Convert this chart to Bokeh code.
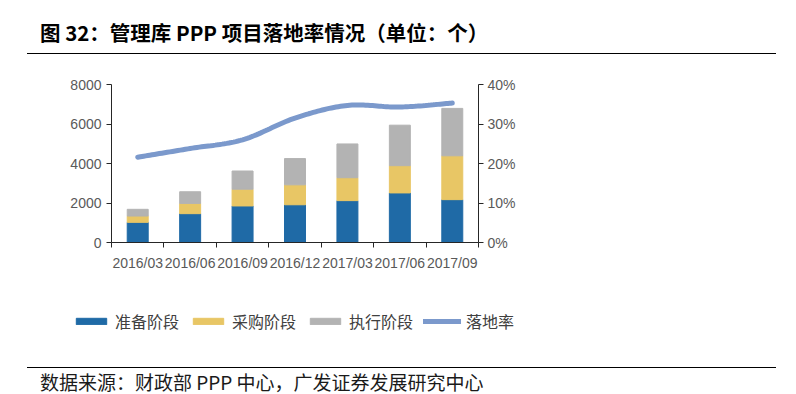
import numpy as np
from bokeh.plotting import figure
from bokeh.layouts import column
from bokeh.models import (Range1d, LinearAxis, FixedTicker, NumeralTickFormatter, Div,
                          Legend, LegendItem, ColumnDataSource)
from bokeh.embed import file_html
from bokeh.resources import INLINE

# ---- data ----
periods = ["2016/03", "2016/06", "2016/09", "2016/12", "2017/03", "2017/06", "2017/09"]
prep = [1020, 1460, 1850, 1910, 2120, 2510, 2170]        # 准备阶段
procure = [320, 520, 850, 1010, 1160, 1380, 2220]        # 采购阶段
execute = [340, 590, 920, 1330, 1710, 2050, 2400]        # 执行阶段
rate = [0.216, 0.238, 0.260, 0.315, 0.347, 0.343, 0.353]  # 落地率
series_names = ["准备阶段", "采购阶段", "执行阶段", "落地率"]
left_ticks = [0, 2000, 4000, 6000, 8000]
right_ticks = [0, 0.1, 0.2, 0.3, 0.4]

title_text = "图 32：管理库 PPP 项目落地率情况（单位：个）"
source_text = "数据来源：财政部 PPP 中心，广发证券发展研究中心"

CJK = "Noto Sans CJK SC"
LAT = "Liberation Sans"
colors = ["#1f6aa6", "#e8c665", "#b3b3b3"]
line_color = "#7b99cc"
W = 796

# ---- layout geometry (page pixels) ----
FIG_TOP, FIG_H = 60, 302
FR_L, FR_R, FR_T, FR_B = 60, 736, 64, 334      # plot frame
AX_L, AX_R, AX_T, AX_Y = 111, 478, 84, 242     # axis lines / top of value scale
n = len(periods)
ymax, rmax = left_ticks[-1], right_ticks[-1]
kx = (AX_R - AX_L) / n
x_start, x_end = -(AX_L - FR_L) / kx, n + (FR_R - AX_R) / kx
ky = ymax / (AX_Y - AX_T)
kr = rmax / (AX_Y - AX_T)
y_start, y_end = -(FR_B - AX_Y) * ky, ymax + (AX_T - FR_T) * ky
r_start, r_end = -(FR_B - AX_Y) * kr, rmax + (AX_T - FR_T) * kr

centers = [i + 0.5 for i in range(n)]
bounds = [float(i) for i in range(n + 1)]

src = ColumnDataSource(dict(x=centers, prep=prep, procure=procure, execute=execute, rate=rate))


def smooth(xs, ys, m=24):
    P = np.column_stack([xs, ys]).astype(float)
    Pp = np.vstack([P[0], P, P[-1]])
    out = []
    t = np.linspace(0, 1, m)[:, None]
    for i in range(len(P) - 1):
        p0, p1, p2, p3 = Pp[i], Pp[i + 1], Pp[i + 2], Pp[i + 3]
        c1 = p1 + (p2 - p0) / 6.0
        c2 = p2 - (p3 - p1) / 6.0
        seg = (1 - t) ** 3 * p1 + 3 * (1 - t) ** 2 * t * c1 + 3 * (1 - t) * t ** 2 * c2 + t ** 3 * p2
        out.append(seg if i == 0 else seg[1:])
    S = np.vstack(out)
    return S[:, 0], S[:, 1]


# ---- top: title + rule ----
top_html = (
    '<div style="position:relative; width:%dpx; height:60px;">'
    '<div style="position:absolute; left:40px; top:19px; line-height:26px; white-space:nowrap; '
    'font-family:\'%s\'; font-size:20.5px; font-weight:bold; color:#000;">%s</div>'
    '<div style="position:absolute; left:27px; top:53px; width:749px; height:0; '
    'border-top:1.5px solid #000;"></div></div>' % (W, CJK, title_text))
top = Div(text=top_html, width=W, height=FIG_TOP, margin=0)

# ---- main chart ----
p = figure(width=W, height=FIG_H, x_range=Range1d(x_start, x_end), y_range=Range1d(y_start, y_end),
           output_backend="svg", toolbar_location=None,
           min_border_left=FR_L, min_border_right=W - FR_R,
           min_border_top=FR_T - FIG_TOP, min_border_bottom=FIG_TOP + FIG_H - FR_B)
p.outline_line_color = None
p.xgrid.grid_line_color = None
p.ygrid.grid_line_color = None
p.background_fill_color = "white"
p.border_fill_color = "white"

bars = p.vbar_stack(["prep", "procure", "execute"], x="x", width=0.4, source=src, color=colors)

p.extra_y_ranges = {"rate": Range1d(r_start, r_end)}
sx, sy = smooth(centers, rate)
ln = p.line(sx, sy, y_range_name="rate", line_color=line_color, line_width=5, line_cap="round")

ax_col = "#262626"
lab_col = "#595959"

xa = p.xaxis[0]
xa.fixed_location = 0
xa.bounds = (0, n)
xa.ticker = FixedTicker(ticks=centers, minor_ticks=bounds)
xa.major_label_overrides = {c: lab for c, lab in zip(centers, periods)}
xa.major_tick_line_color = None
xa.major_tick_out = 0
xa.major_tick_in = 0
xa.minor_tick_out = 5
xa.minor_tick_in = 0
xa.minor_tick_line_color = ax_col
xa.axis_line_color = ax_col
xa.major_label_text_font = LAT
xa.major_label_text_font_size = "14px"
xa.major_label_text_color = lab_col
xa.major_label_standoff = 7

ya = p.yaxis[0]
ya.fixed_location = 0
ya.bounds = (0, ymax)
ya.ticker = FixedTicker(ticks=left_ticks)
ya.major_tick_out = 5
ya.major_tick_in = 0
ya.minor_tick_line_color = None
ya.axis_line_color = ax_col
ya.major_tick_line_color = ax_col
ya.major_label_text_font = LAT
ya.major_label_text_font_size = "14px"
ya.major_label_text_color = lab_col
ya.major_label_standoff = 5

ra = LinearAxis(y_range_name="rate", ticker=FixedTicker(ticks=right_ticks),
                formatter=NumeralTickFormatter(format="0%"), fixed_location=n, bounds=(0, rmax))
ra.major_tick_out = 5
ra.major_tick_in = 0
ra.minor_tick_line_color = None
ra.axis_line_color = ax_col
ra.major_tick_line_color = ax_col
ra.major_label_text_font = LAT
ra.major_label_text_font_size = "14px"
ra.major_label_text_color = lab_col
ra.major_label_standoff = 4
p.add_layout(ra, "right")

legend = Legend(items=[LegendItem(label=series_names[0], renderers=[bars[0]]),
                       LegendItem(label=series_names[1], renderers=[bars[1]]),
                       LegendItem(label=series_names[2], renderers=[bars[2]]),
                       LegendItem(label=series_names[3], renderers=[ln])],
                location=(72 - FR_L, 1), orientation="horizontal",
                glyph_width=38, glyph_height=8, spacing=10, label_standoff=5,
                padding=0, margin=0, border_line_color=None, background_fill_alpha=0,
                label_text_font=CJK, label_text_font_size="16px", label_text_color="#404040")
p.add_layout(legend)

# ---- bottom: rule + source ----
bottom_html = (
    '<div style="position:relative; width:%dpx; height:32px;">'
    '<div style="position:absolute; left:27px; top:5px; width:749px; height:0; '
    'border-top:1.5px solid #000;"></div>'
    '<div style="position:absolute; left:40px; top:9px; line-height:22px; white-space:nowrap; '
    'font-family:\'%s\'; font-size:19px; color:#1a1a1a;">%s</div></div>' % (W, CJK, source_text))
bottom = Div(text=bottom_html, width=W, height=32, margin=0)

layout = column(top, p, bottom, spacing=0)
open("out.html", "w").write(file_html(layout, INLINE))
